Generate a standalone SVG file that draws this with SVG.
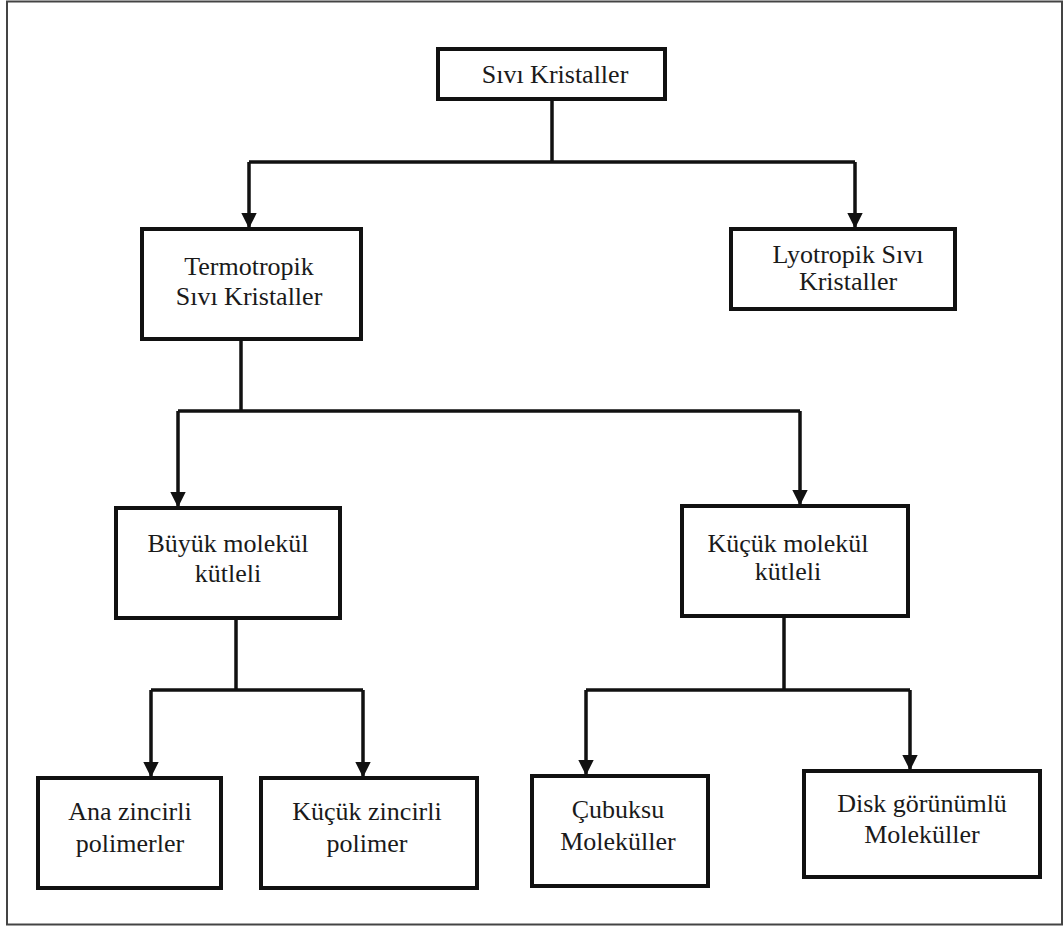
<svg xmlns="http://www.w3.org/2000/svg" width="1063" height="929" viewBox="0 0 1063 929">
<style>
.box{fill:#fff;stroke:#111;stroke-width:4}
text{font-family:'Liberation Serif','DejaVu Serif',serif;font-size:26px;fill:#1a1a1a;text-anchor:middle}
.conn{fill:none;stroke:#111;stroke-width:3.5;stroke-linejoin:round}
</style>
<defs>
<marker id="ah" markerWidth="4.4" markerHeight="4.4" refX="4" refY="2.2" orient="auto" markerUnits="strokeWidth">
<path d="M0,0 L4.4,2.2 L0,4.4 Z" fill="#111"/>
</marker>
</defs>
<rect x="7" y="1.5" width="1055" height="923" fill="#fff" stroke="#444" stroke-width="2"/>
<g id="connectors">
<path class="conn" d="M552,99 V162"/>
<path class="conn" d="M249,162 H855"/>
<path class="conn" d="M249,162 V227" marker-end="url(#ah)"/>
<path class="conn" d="M855,162 V227" marker-end="url(#ah)"/>
<path class="conn" d="M241,339 V411"/>
<path class="conn" d="M178,411 H800"/>
<path class="conn" d="M178,411 V506" marker-end="url(#ah)"/>
<path class="conn" d="M800,411 V504" marker-end="url(#ah)"/>
<path class="conn" d="M236,618 V690"/>
<path class="conn" d="M151,690 H363"/>
<path class="conn" d="M151,690 V776" marker-end="url(#ah)"/>
<path class="conn" d="M363,690 V776" marker-end="url(#ah)"/>
<path class="conn" d="M784,616 V690"/>
<path class="conn" d="M586,690 H910"/>
<path class="conn" d="M586,690 V774" marker-end="url(#ah)"/>
<path class="conn" d="M910,690 V769" marker-end="url(#ah)"/>
</g>
<g id="n_sivi">
<rect class="box" x="438" y="49" width="227" height="50"/>
<text font-family="Liberation Serif, serif" x="555" y="83">Sıvı Kristaller</text>
</g>
<g id="n_termo">
<rect class="box" x="142" y="229" width="219" height="110"/>
<text font-family="Liberation Serif, serif" x="249" y="275">Termotropik</text>
<text font-family="Liberation Serif, serif" x="249" y="305">Sıvı Kristaller</text>
</g>
<g id="n_lyo">
<rect class="box" x="731" y="229" width="224" height="80"/>
<text font-family="Liberation Serif, serif" x="848" y="263">Lyotropik Sıvı</text>
<text font-family="Liberation Serif, serif" x="848" y="290">Kristaller</text>
</g>
<g id="n_buyuk">
<rect class="box" x="116" y="508" width="224" height="110"/>
<text font-family="Liberation Serif, serif" x="228" y="552">Büyük molekül</text>
<text font-family="Liberation Serif, serif" x="228" y="582">kütleli</text>
</g>
<g id="n_kucuk">
<rect class="box" x="682" y="506" width="226" height="110"/>
<text font-family="Liberation Serif, serif" x="788" y="552">Küçük molekül</text>
<text font-family="Liberation Serif, serif" x="788" y="580">kütleli</text>
</g>
<g id="n_ana">
<rect class="box" x="38" y="778" width="183" height="110"/>
<text font-family="Liberation Serif, serif" x="130" y="820">Ana zincirli</text>
<text font-family="Liberation Serif, serif" x="130" y="852">polimerler</text>
</g>
<g id="n_kzincir">
<rect class="box" x="261" y="778" width="216" height="110"/>
<text font-family="Liberation Serif, serif" x="367" y="820">Küçük zincirli</text>
<text font-family="Liberation Serif, serif" x="367" y="852">polimer</text>
</g>
<g id="n_cubuksu">
<rect class="box" x="532" y="776" width="176" height="110"/>
<text font-family="Liberation Serif, serif" x="618" y="818">Çubuksu</text>
<text font-family="Liberation Serif, serif" x="618" y="850">Moleküller</text>
</g>
<g id="n_disk">
<rect class="box" x="804" y="771" width="236" height="106"/>
<text font-family="Liberation Serif, serif" x="922" y="812">Disk görünümlü</text>
<text font-family="Liberation Serif, serif" x="922" y="843">Moleküller</text>
</g>
</svg>
